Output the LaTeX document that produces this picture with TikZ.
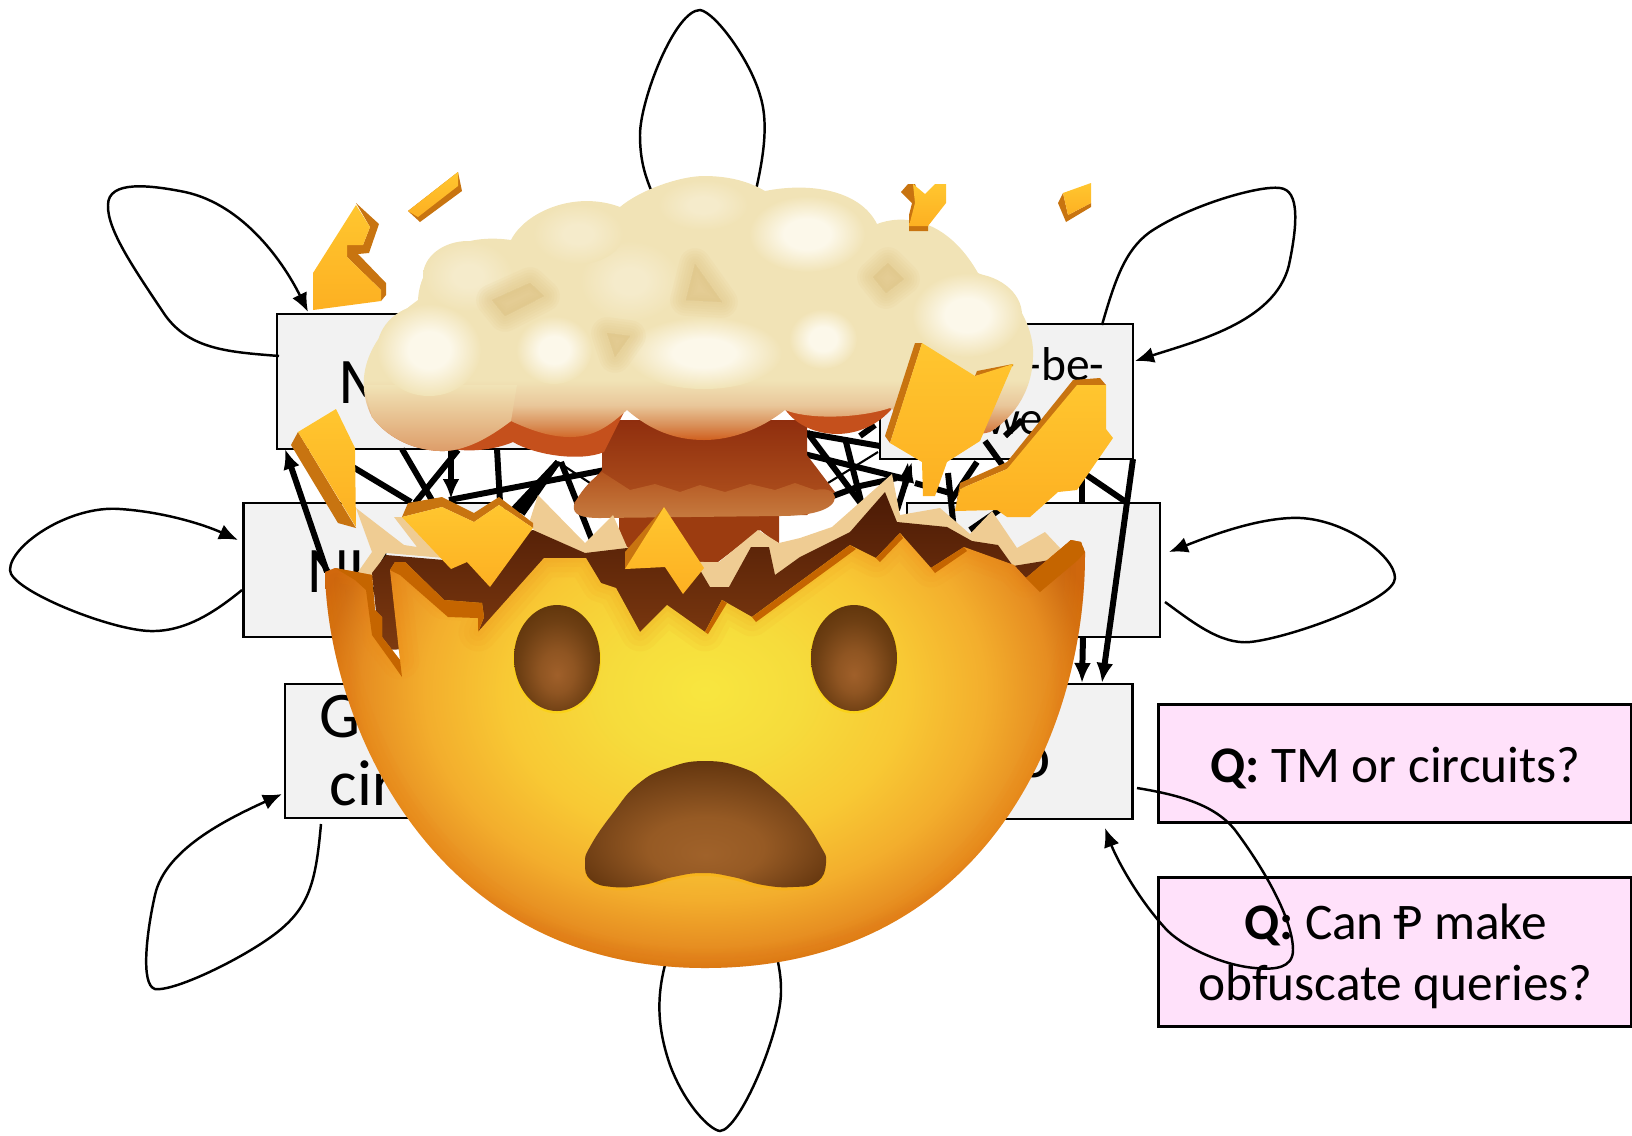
\documentclass[tikz,border=0pt]{standalone}
\usepackage{fontspec}
\setmainfont{Carlito}
\usetikzlibrary{arrows.meta}

\definecolor{boxgray}{HTML}{F2F2F2}
\definecolor{qpink}{HTML}{FFE1FA}
\definecolor{shardhi}{HTML}{FFC62F}
\definecolor{shardlo}{HTML}{FDB022}
\definecolor{shardrim}{HTML}{C87410}
\definecolor{headrim}{HTML}{C56500}
\definecolor{crusttan}{HTML}{EFCC93}
\definecolor{cloudcream}{HTML}{F1E3B6}
\definecolor{cloudglow}{HTML}{FCF8EA}
\definecolor{cloudmild}{HTML}{F5EBCB}
\definecolor{cloudtan}{HTML}{E0C486}
\definecolor{cloudpeach}{HTML}{DD9C68}
\definecolor{lobeorange}{HTML}{C5501C}
\definecolor{insidetop}{HTML}{4B1A05}
\definecolor{insidelow}{HTML}{7E3A10}
\definecolor{stemtop}{HTML}{8F2E0E}
\definecolor{stemlow}{HTML}{B3551F}
\definecolor{stembulge}{HTML}{C67A3F}
\definecolor{stemfoot}{HTML}{9C3C10}

\pgfdeclareradialshading{headglow}{\pgfpointorigin}{%
  rgb(0bp)=(0.973,0.902,0.247); rgb(6bp)=(0.965,0.863,0.235);
  rgb(12.5bp)=(0.973,0.788,0.204); rgb(17.5bp)=(0.953,0.682,0.176);
  rgb(21.5bp)=(0.902,0.553,0.129); rgb(24bp)=(0.812,0.427,0.071);
  rgb(25bp)=(0.788,0.392,0.055); rgb(50bp)=(0.788,0.392,0.055)}
\pgfdeclareradialshading{eyeglow}{\pgfpoint{0bp}{-8bp}}{%
  rgb(0bp)=(0.627,0.376,0.165); rgb(10bp)=(0.561,0.333,0.133);
  rgb(22bp)=(0.431,0.247,0.075); rgb(33bp)=(0.353,0.192,0.031);
  rgb(50bp)=(0.353,0.192,0.031)}
\pgfdeclareradialshading{mouthglow}{\pgfpoint{0bp}{-12bp}}{%
  rgb(0bp)=(0.627,0.384,0.165); rgb(12bp)=(0.588,0.353,0.141);
  rgb(22bp)=(0.478,0.275,0.098); rgb(33bp)=(0.361,0.188,0.039);
  rgb(50bp)=(0.361,0.188,0.039)}
\pgfdeclareradialshading{puffglow}{\pgfpointorigin}{%
  color(0bp)=(cloudglow); color(10bp)=(cloudglow);
  color(25bp)=(cloudcream); color(50bp)=(cloudcream)}
\pgfdeclareradialshading{puffmild}{\pgfpointorigin}{%
  color(0bp)=(cloudmild); color(8bp)=(cloudmild);
  color(25bp)=(cloudcream); color(50bp)=(cloudcream)}
\pgfdeclareverticalshading{cloudfade}{100bp}{%
  rgb(0bp)=(0.784,0.333,0.102); rgb(25bp)=(0.784,0.333,0.102);
  rgb(27.2bp)=(0.816,0.376,0.122); rgb(29.9bp)=(0.851,0.561,0.345);
  rgb(33.5bp)=(0.914,0.780,0.604); rgb(38bp)=(0.945,0.890,0.714);
  rgb(100bp)=(0.945,0.890,0.714)}

\tikzset{
  graybox/.style={draw=black, fill=boxgray, line width=0.75pt, inner sep=0pt, outer sep=0pt},
  qbox/.style={draw=black, fill=qpink, line width=0.8pt, inner sep=0pt, outer sep=0pt},
  qtext/.style={inner sep=0pt, align=center, font=\fontsize{14.6}{17.3}\selectfont},
  looparrow/.style={line width=0.7pt, -{Latex[length=0.19cm,width=0.16cm]}},
  loopline/.style={line width=0.7pt},
  tangle/.style={line width=1.7pt},
  tanglearrow/.style={line width=1.7pt, -{Latex[length=0.2cm,width=0.17cm]}},
  bigtext/.style={anchor=base west, inner sep=0pt, font=\fontsize{18.5}{18.5}\selectfont},
  smalltext/.style={anchor=base west, inner sep=0pt, font=\fontsize{13.5}{13.5}\selectfont},
  shardface/.style={top color=shardhi, bottom color=shardlo},
  softpatch/.style={draw=cloudtan, fill=cloudtan, opacity=0.11, line join=round},
  crackhalo/.style={draw=orange!80!brown, opacity=0.06, line join=round},
}

\newcommand{\softblob}[1]{%
  \draw[softpatch, line width=9pt] #1;
  \draw[softpatch, line width=7.5pt] #1;
  \draw[softpatch, line width=6pt] #1;
  \draw[softpatch, line width=4.5pt] #1;
  \draw[softpatch, line width=3pt] #1;
  \draw[softpatch, line width=1.5pt] #1;
}

\newcommand{\headoutline}{(325,572) .. controls (328,720) and (430,968) .. (705,968)
  .. controls (985,968) and (1086,730) .. (1085,552) -- (1081,542) -- (1071,540)
  -- (1026,578) -- (1014,565) -- (964,547) -- (931,568) -- (900,533) -- (876,558)
  -- (850,545) -- (752,617) -- (722,600) -- (705,632) -- (667,605) -- (640,632)
  -- (616,588) -- (601,583) -- (586,558) -- (544,558) -- (478,632) -- (484,617)
  -- (482,603) -- (444,600) -- (405,562) -- (395,562) -- (390,570) -- (400,660)
  -- (382,637) -- (382,617) -- (375,610) -- (372,575) -- (335,568) -- cycle}

\newcommand{\mouthoutline}{plot[smooth cycle, tension=0.8] coordinates {(705,761) (668,768)
  (638,784) (613,813) (591,845) (585,863) (591,880) (613,887) (643,885) (673,877) (703,873)
  (733,877) (763,885) (793,887) (817,882) (826,863) (820,845) (798,813) (768,784) (743,768)}}

\begin{document}
\begin{tikzpicture}[x=0.01cm, y=-0.01cm]
  \useasboundingbox (0,0) rectangle (1632,1135);

  % Gray boxes
  \node[graybox, minimum width=2.88cm, minimum height=1.35cm] (mbox) at (421,381.5) {};
  \node[graybox, minimum width=2.61cm, minimum height=1.34cm] (nubox) at (374,570) {};
  \node[graybox, minimum width=2.55cm, minimum height=1.34cm] (gbox) at (412.5,751) {};
  \node[graybox, minimum width=2.53cm, minimum height=1.35cm] (bebox) at (1006.5,391.5) {};
  \node[graybox, minimum width=2.53cm, minimum height=1.34cm] (midbox) at (1033.5,570) {};
  \node[graybox, minimum width=2.55cm, minimum height=1.35cm] (obox) at (1005,751.5) {};

  % What shows of the box labels
  \node[bigtext] (mtext) at (338,403) {M};
  \node[bigtext] (nutext) at (307,592) {NU};
  \node[bigtext] (gtext) at (319,737) {G};
  \node[bigtext] (cirtext) at (329,805) {cir};
  \node[smalltext] (betext) at (1026,380) {-be-};
  \node[smalltext, anchor=base east] (owetext) at (1044,434) {owe};
  \node[bigtext, anchor=base east] (otext) at (1052,777) {o};

  % Question boxes
  \node[qbox, minimum width=4.72cm, minimum height=1.18cm] (qtm) at (1395,763.5) {};
  \node[qbox, minimum width=4.72cm, minimum height=1.49cm] (qcan) at (1395,952) {};
  \node[qtext] (qtmtext) at (1395.5,768) {\textbf{Q:} TM or circuits?};
  \node[qtext] (qcantext) at (1395.5,956) {\textbf{Q:} Can Ᵽ make\\obfuscate queries?};

  % Loops around the boxes
  \coordinate (ltopa) at (756,190);
  \coordinate (ltopb) at (651,190);
  \draw[loopline] (ltopa) .. controls (765,150) and (768,120) .. (760,95)
    .. controls (750,60) and (715,12) .. (700,10)
    .. controls (675,10) and (640,100) .. (640,135)
    .. controls (640,160) and (645,175) .. (ltopb);
  \coordinate (lbota) at (665,965);
  \coordinate (lbotb) at (778,962);
  \draw[loopline] (lbota) .. controls (656,1000) and (658,1030) .. (670,1065)
    .. controls (685,1105) and (710,1130) .. (720,1131)
    .. controls (740,1130) and (782,1030) .. (781,990)
    .. controls (781,980) and (780,972) .. (lbotb);
  \coordinate (lma) at (279,356);
  \coordinate (lmb) at (308,312);
  \draw[looparrow] (lma) .. controls (230,352) and (190,350) .. (165,315)
    .. controls (135,270) and (107,230) .. (108,205)
    .. controls (108,180) and (150,185) .. (185,192)
    .. controls (245,205) and (285,265) .. (lmb);
  \coordinate (lbea) at (1102,325);
  \coordinate (lbeb) at (1135,361);
  \draw[looparrow] (lbea) .. controls (1115,280) and (1125,250) .. (1150,232)
    .. controls (1190,205) and (1260,185) .. (1280,188)
    .. controls (1300,190) and (1297,225) .. (1290,260)
    .. controls (1280,320) and (1200,340) .. (lbeb);
  \coordinate (lnua) at (242,590);
  \coordinate (lnub) at (238,540);
  \draw[looparrow] (lnua) .. controls (215,612) and (185,632) .. (150,631)
    .. controls (110,630) and (10,590) .. (10,570)
    .. controls (10,545) and (70,505) .. (120,509)
    .. controls (165,512) and (205,525) .. (lnub);
  \coordinate (lmida) at (1165,602);
  \coordinate (lmidb) at (1169,552);
  \draw[looparrow] (lmida) .. controls (1190,620) and (1220,645) .. (1250,642)
    .. controls (1290,638) and (1395,600) .. (1395,578)
    .. controls (1395,555) and (1340,515) .. (1290,518)
    .. controls (1250,520) and (1205,538) .. (lmidb);
  \coordinate (lga) at (321,824);
  \coordinate (lgb) at (282,794);
  \draw[looparrow] (lga) .. controls (316,880) and (310,905) .. (280,930)
    .. controls (250,955) and (175,992) .. (155,989)
    .. controls (140,985) and (147,930) .. (155,895)
    .. controls (165,850) and (225,820) .. (lgb);
  \coordinate (loa) at (1137,788);
  \coordinate (lob) at (1105,828);
  \draw[looparrow] (loa) .. controls (1180,795) and (1215,805) .. (1235,830)
    .. controls (1265,870) and (1293,920) .. (1293,950)
    .. controls (1293,968) and (1275,970) .. (1255,968)
    .. controls (1220,965) and (1180,945) .. (1165,928)
    .. controls (1135,895) and (1115,855) .. (lob);

  % Tangle of thick lines, left part
  \coordinate (ta) at (327,572); \coordinate (tb) at (285,449);
  \draw[tanglearrow] (ta) -- (tb);
  \coordinate (tc) at (323,449); \coordinate (td) at (411,502);
  \draw[tangle] (tc) -- (td);
  \coordinate (te) at (402,449); \coordinate (tf) at (433,502);
  \draw[tangle] (te) -- (tf);
  \coordinate (tg) at (458,450); \coordinate (th) at (415,503);
  \draw[tangle] (tg) -- (th);
  \coordinate (ti) at (451,449); \coordinate (tj) at (451,499);
  \draw[tanglearrow] (ti) -- (tj);
  \coordinate (tk) at (497,449); \coordinate (tl) at (500,502);
  \draw[tangle] (tk) -- (tl);
  \coordinate (tm) at (449,500); \coordinate (tn) at (605,470);
  \draw[tangle] (tm) -- (tn);
  \coordinate (to) at (558,462); \coordinate (tp) at (511,512);
  \draw[tangle] (to) -- (tp);
  \coordinate (tq) at (522,514);
  \draw[tangle] (to) -- (tq);
  \coordinate (tr) at (517,512);
  \draw[tangle] (to) -- (tr);
  \coordinate (ts) at (561,462); \coordinate (tt) at (592,540);
  \draw[tangle] (ts) -- (tt);
  \coordinate (tu) at (590,483);
  \draw[line width=0.6pt] (to) -- (tu);

  % Tangle of thick lines, right part
  \coordinate (ua) at (800,432); \coordinate (ub) at (880,446);
  \draw[tangle] (ua) -- (ub);
  \coordinate (uc) at (845,438); \coordinate (ud) at (862,505);
  \draw[tangle] (uc) -- (ud);
  \coordinate (ue) at (800,453); \coordinate (uf) at (910,480);
  \draw[tangle] (ue) -- (uf);
  \coordinate (ug) at (807,432); \coordinate (uh) at (862,505);
  \draw[tangle] (ug) -- (uh);
  \coordinate (ui) at (833,496); \coordinate (uj) at (860,486);
  \coordinate (uk) at (897,478);
  \draw[tangle] (ui) -- (uj) -- (uk);
  \coordinate (ul) at (828,483); \coordinate (um) at (878,452);
  \draw[line width=0.6pt] (ul) -- (um);
  \coordinate (un) at (860,436); \coordinate (uo) at (875,425);
  \draw[tangle] (un) -- (uo);
  \coordinate (up) at (905,486); \coordinate (uq) at (908,462);
  \draw[tanglearrow] (up) -- (uq);
  \coordinate (ur) at (897,510); \coordinate (us) at (912,462);
  \draw[tanglearrow] (ur) -- (us);
  \coordinate (ut) at (915,483); \coordinate (uu) at (950,493);
  \draw[tangle] (ut) -- (uu);
  \coordinate (uv) at (950,502); \coordinate (uw) at (977,462);
  \draw[tangle] (uv) -- (uw);
  \coordinate (ux) at (948,473); \coordinate (uy) at (954,530);
  \draw[tangle] (ux) -- (uy);
  \coordinate (uz) at (985,441); \coordinate (va) at (1003,466);
  \draw[tangle] (uz) -- (va);
  \coordinate (vb) at (1005,436); \coordinate (vc) at (1022,420);
  \draw[tangle] (vb) -- (vc);
  \coordinate (vd) at (1082,458); \coordinate (ve) at (1082,502);
  \draw[tangle] (vd) -- (ve);
  \coordinate (vf) at (1085,474); \coordinate (vg) at (1126,502);
  \draw[tangle] (vf) -- (vg);
  \coordinate (vh) at (970,530); \coordinate (vi) at (1002,508);
  \draw[tangle] (vh) -- (vi);
  % The two arrows down to the bottom right box
  \coordinate (vj) at (1133,459); \coordinate (vk) at (1102,683);
  \draw[tanglearrow] (vj) -- (vk);
  \coordinate (vl) at (1083,637); \coordinate (vm) at (1082,683);
  \draw[tanglearrow] (vl) -- (vm);

  % Mushroom stem
  \shade[top color=stemtop, bottom color=stemlow]
    (602,420) -- (807,420) -- (807,455) -- (835,492) -- (807,515) -- (602,515) -- (574,503) -- (602,470) -- cycle;
  \fill[stemfoot] (619,510) -- (779,510) -- (779,545) -- (760,530) -- (718,562) -- (704,562) -- (619,560) -- cycle;
  \shade[top color=stemlow, bottom color=stembulge] (602,472) .. controls (590,480) and (578,495) .. (574,505)
    .. controls (572,515) and (582,518) .. (600,518) -- (780,516) .. controls (810,516) and (835,510) .. (835,497)
    .. controls (833,490) and (826,488) .. (815,490) -- (795,483) -- (775,490) -- (750,484) -- (725,492)
    -- (700,485) -- (680,492) -- (655,484) -- (630,490) -- cycle;

  % Dark lobes under the cloud
  \fill[lobeorange] (430,440) .. controls (450,455) and (490,452) .. (513,442)
    .. controls (535,455) and (580,462) .. (604,452) -- (630,400) -- (500,400) -- cycle;
  \fill[lobeorange] (780,400) .. controls (795,438) and (860,450) .. (895,405) -- cycle;

  % Cloud
  \shade[shading=cloudfade] (372,417) .. controls (358,390) and (355,345) .. (418,300)
    .. controls (420,260) and (455,232) .. (511,240)
    .. controls (525,212) and (575,190) .. (620,207)
    .. controls (640,190) and (680,176) .. (704,176)
    .. controls (730,176) and (750,182) .. (765,191)
    .. controls (810,182) and (860,190) .. (877,224)
    .. controls (900,215) and (945,215) .. (978,273)
    .. controls (1020,290) and (1035,335) .. (1033,357)
    .. controls (1032,395) and (1010,420) .. (990,432)
    .. controls (960,440) and (920,425) .. (890,408)
    .. controls (860,418) and (810,420) .. (785,410)
    .. controls (760,430) and (730,440) .. (704,440)
    .. controls (675,440) and (650,430) .. (627,410)
    .. controls (610,425) and (595,437) .. (570,437)
    .. controls (550,437) and (530,430) .. (511,421)
    .. controls (490,437) and (465,452) .. (440,451)
    .. controls (410,450) and (385,435) .. (372,417) -- cycle;
  % Left lobe stays pale
  \shade[top color=cloudcream, bottom color=cloudpeach] (364,385) -- (517,385) -- (511,421)
    .. controls (490,437) and (465,452) .. (440,451)
    .. controls (410,450) and (385,435) .. (372,417) -- cycle;

  % Mild puffs
  \shade[shading=puffmild] (468,276) ellipse (45 and 35);
  \shade[shading=puffmild] (630,281) ellipse (50 and 40);
  \shade[shading=puffmild] (703,205) ellipse (45 and 25);
  \shade[shading=puffmild] (578,234) ellipse (45 and 30);
  % Bright puffs
  \shade[shading=puffglow] (429,350) ellipse (52 and 46);
  \shade[shading=puffglow] (554,350) ellipse (38 and 34);
  \shade[shading=puffglow] (704,353) ellipse (78 and 36);
  \shade[shading=puffglow] (807,234) ellipse (58 and 38);
  \shade[shading=puffglow] (823,339) ellipse (34 and 30);
  \shade[shading=puffglow] (967,315) ellipse (55 and 42);

  % Tan patches, blurred by hand
  \softblob{(492,300) -- (530,283) -- (544,296) -- (505,316) -- cycle}
  \softblob{(695,264) -- (686,300) -- (722,302) -- cycle}
  \softblob{(607,333) -- (630,336) -- (615,357) -- cycle}
  \softblob{(873,277) -- (888,263) -- (904,279) -- (886,293) -- cycle}

  % Crust behind the head
  \fill[crusttan] (356,508) -- (404,545) -- (417,547) -- (394,517) -- (403,517) -- (444,558)
    -- (386,553) -- (372,576) -- (358,572) -- (372,552) -- cycle;
  \fill[crusttan] (530,520) -- (538,495) -- (585,543) -- (613,515) -- (627,547) -- (650,560)
    -- (704,562) -- (719,562) -- (758,530) -- (779,543) -- (800,538) -- (832,527) -- (892,474)
    -- (900,515) -- (940,508) -- (970,534) -- (992,511) -- (1017,548) -- (1045,532) -- (1060,548)
    -- (1050,565) -- (1013,575) -- (800,620) -- (560,600) -- cycle;

  % Inside of the head
  \shade[top color=insidetop, bottom color=insidelow]
    (372,573) -- (386,555) -- (444,560) -- (475,545) -- (533,530) -- (585,553) -- (627,548)
    -- (660,560) -- (700,570) -- (710,587) -- (729,587) -- (751,547) -- (769,547) -- (775,575)
    -- (800,557) -- (850,532) -- (885,492) -- (897,522) -- (947,527) -- (972,541) -- (998,545)
    -- (1013,566) -- (1050,560) -- (1071,540) -- (1076,600) -- (700,640) -- (380,650) -- cycle;

  % Head
  \begin{scope}
    \clip \headoutline;
    \shade[shading=headglow] (305,390) rectangle (1105,990);
    \draw[crackhalo, line width=11pt] \headoutline;
    \draw[crackhalo, line width=8pt] \headoutline;
    \draw[crackhalo, line width=5pt] \headoutline;
    \draw[crackhalo, line width=2.5pt] \headoutline;
    % Rim of the crack
    \fill[headrim] (390,570) -- (395,562) -- (405,562) -- (444,600) -- (482,603) -- (484,617)
      -- (478,632) -- (478,618) -- (448,617) -- (400,575) -- cycle;
    \fill[headrim] (705,632) -- (722,600) -- (727,603) -- (708,634) -- cycle;
    \fill[headrim] (752,617) -- (850,545) -- (856,549) -- (756,622) -- cycle;
    \fill[headrim] (876,558) -- (900,533) -- (903,538) -- (880,562) -- cycle;
    \fill[headrim] (931,568) -- (964,547) -- (967,551) -- (935,573) -- cycle;
    \fill[headrim] (1026,578) -- (1071,540) -- (1081,542) -- (1085,552) -- (1078,560) -- (1040,592) -- cycle;
    \fill[headrim] (335,568) -- (372,575) -- (375,610) -- (382,617) -- (382,637) -- (400,660)
      -- (402,677) -- (390,660) -- (372,635) -- (366,590) -- (355,580) -- cycle;
  \end{scope}

  % Eyes
  \fill[yellow!70!orange, opacity=0.6] (557,659.5) ellipse (44 and 54);
  \fill[yellow!70!orange, opacity=0.6] (854,659.5) ellipse (44 and 54);
  \shade[shading=eyeglow] (557,658) ellipse (43 and 53);
  \shade[shading=eyeglow] (854,658) ellipse (43 and 53);

  % Mouth
  \fill[yellow!40!orange, opacity=0.5, shift={(0,3)}] \mouthoutline;
  \shade[shading=mouthglow] \mouthoutline;

  % Shards, top left
  \fill[shardrim] (356,203) -- (379,224) -- (369,253) -- (358,254) -- (386,283) -- (386,295)
    -- (381,301) -- (381,290) -- (347,257) -- (347,245) -- (363,245) -- (370,227) -- cycle;
  \shade[shardface] (356,205) -- (370,227) -- (363,245) -- (347,245) -- (347,257) -- (381,290)
    -- (381,301) -- (313,310) -- (313,273) -- cycle;
  \fill[shardrim] (408,211) -- (420,222) -- (462,191) -- (458,172) -- cycle;
  \shade[shardface] (408,211) -- (458,172) -- (458,186) -- (418,217) -- cycle;

  % Shard on the left of the head
  \fill[shardrim] (298,432) -- (291,445) -- (338,523) -- (356,528) -- cycle;
  \shade[shardface] (336,409) -- (355,448) -- (356,527) -- (298,432) -- cycle;

  % Shards on the crack
  \fill[shardrim] (402,517) -- (408,503) -- (442,497) -- (474,513) -- (499,497) -- (533,523)
    -- (533,528) -- (499,505) -- (474,522) -- (442,507) -- cycle;
  \shade[shardface] (402,517) -- (442,507) -- (474,522) -- (499,505) -- (533,528) -- (490,587)
    -- (467,562) -- (451,569) -- cycle;
  \fill[shardrim] (664,507) -- (625,552) -- (625,569) -- (640,560) -- cycle;
  \shade[shardface] (664,507) -- (704,568) -- (683,594) -- (665,567) -- (625,569) -- cycle;

  % Shards, top right
  \fill[shardrim] (901,192) -- (908,184) -- (915,184) -- (925,210) -- (928,224) -- (928,231)
    -- (909,231) -- (909,215) -- (912,203) -- cycle;
  \shade[shardface] (913,184) -- (925,194) -- (935,184) -- (946,184) -- (946,203) -- (928,226)
    -- (909,226) -- (915,203) -- cycle;
  \fill[shardrim] (1063,193) -- (1058,203) -- (1066,222) -- (1091,207) -- (1091,203) -- (1068,215) -- cycle;
  \shade[shardface] (1063,193) -- (1091,183) -- (1091,203) -- (1068,215) -- cycle;

  % Big shards on the right
  \fill[shardrim] (915,343) -- (922,343) -- (890,443) -- (885,436) -- cycle;
  \fill[shardrim] (975,376) -- (977,371) -- (1013,364) -- (1013,366) -- cycle;
  \shade[shardface] (922,343) -- (975,376) -- (1013,364) -- (980,441) -- (947,462) -- (935,496)
    -- (923,496) -- (922,462) -- (890,443) -- cycle;
  \fill[shardrim] (955,511) -- (960,483) -- (1007,462) -- (1073,380) -- (1100,378) -- (1106,385) -- (1007,469) -- (960,489) -- cycle;
  \shade[shardface] (1077,385) -- (1106,385) -- (1106,429) -- (1113,438) -- (1077,490) -- (1058,492)
    -- (1030,517) -- (1007,517) -- (997,510) -- (955,511) -- (960,489) -- (1007,469) -- cycle;
\end{tikzpicture}
\end{document}
